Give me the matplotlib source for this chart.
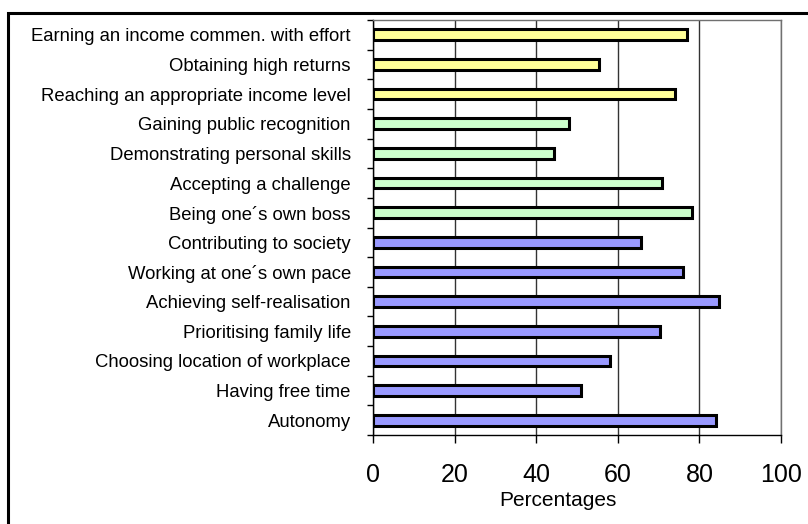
import numpy as np
import matplotlib
matplotlib.use('Agg')
import matplotlib.pyplot as plt
from matplotlib.patches import Rectangle

plt.rcParams['font.family'] = ['Liberation Sans', 'DejaVu Sans']

# 从上到下的类别
labels = ['Earning an income commen. with effort',
          'Obtaining high returns',
          'Reaching an appropriate income level',
          'Gaining public recognition',
          'Demonstrating personal skills',
          'Accepting a challenge',
          'Being one\u00b4s own boss',
          'Contributing to society',
          'Working at one\u00b4s own pace',
          'Achieving self-realisation',
          'Prioritising family life',
          'Choosing location of workplace',
          'Having free time',
          'Autonomy']
values = [77.0, 55.5, 74.1, 48.0, 44.4, 70.9, 78.3,
          65.6, 76.1, 84.7, 70.4, 58.2, 51.0, 84.0]
groups = ['income'] * 3 + ['recognition'] * 4 + ['freedom'] * 7
group_colors = {'income': '#FFFF99', 'recognition': '#CCFFCC', 'freedom': '#9999FF'}
xticks = [0, 20, 40, 60, 80, 100]

fig = plt.figure(figsize=(8.08, 5.24), dpi=100)
ax = fig.add_axes([373 / 808, 1 - 435 / 524, (781 - 373) / 808, (435 - 20) / 524])

y = np.arange(len(labels))
colors = [group_colors[g] for g in groups]
ax.barh(y, values, height=0.36, color=colors, edgecolor='black', linewidth=2.2, zorder=3)

ax.set_xlim(0, 100)
ax.set_ylim(len(labels) - 0.5, -0.5)
ax.set_xticks(xticks)
ax.set_xticklabels([str(t) for t in xticks], fontsize=18)
ax.set_yticks(y)
ax.set_yticklabels(labels, fontsize=13.3)
ax.set_yticks(np.arange(len(labels) + 1) - 0.5, minor=True)
ax.tick_params(axis='y', which='major', length=0, pad=16)
ax.tick_params(axis='y', which='minor', length=4, width=1, direction='out')
ax.tick_params(axis='x', which='major', length=6, width=1, direction='out', pad=14)
ax.set_xlabel('Percentages', fontsize=15)
ax.xaxis.set_label_coords((558 - 373) / 408, -0.135)

ax.grid(axis='x', color='#333333', linewidth=1, zorder=0)
ax.set_axisbelow(True)
for side in ['left', 'bottom']:
    ax.spines[side].set_color('black')
    ax.spines[side].set_linewidth(1)
for side in ['top', 'right']:
    ax.spines[side].set_color('#707070')
    ax.spines[side].set_linewidth(1)

# 外框
fig.patches.append(Rectangle((8 / 808, -0.1), 1.2, 1 - 13 / 524 + 0.1,
                             transform=fig.transFigure, fill=False,
                             edgecolor='black', linewidth=2.2, zorder=0))

fig.savefig('out.png', dpi=100)
